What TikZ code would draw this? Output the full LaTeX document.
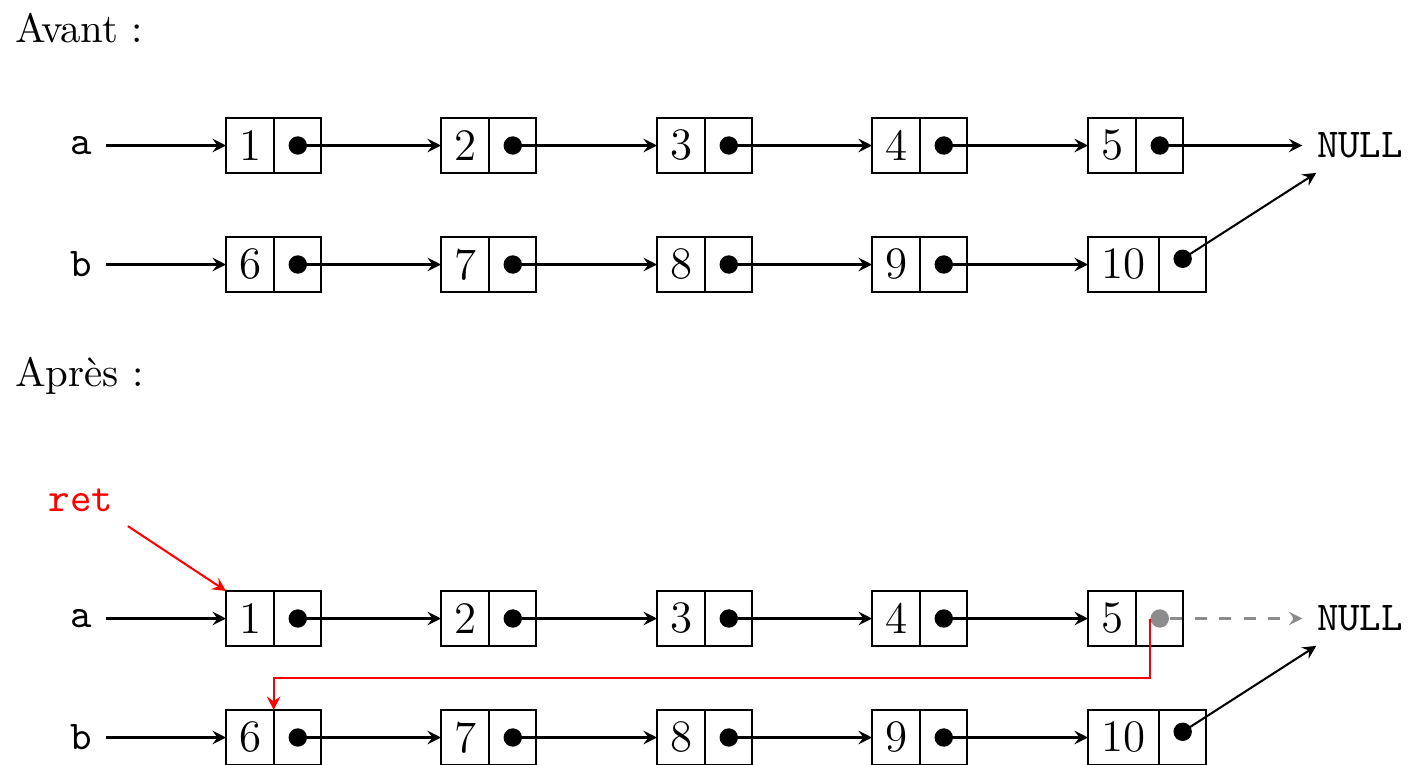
\documentclass[tikz,border=0pt]{standalone}
\usetikzlibrary{calc,arrows.meta}
\definecolor{nullgray}{gray}{0.55}
\begin{document}
\begin{tikzpicture}[x=0.2445pt,y=-0.2445pt,>={Stealth[length=3.3pt,width=3.3pt,inset=1.2pt]},line width=0.5pt,
  val/.style={draw,anchor=west,outer sep=0pt,minimum width=11.8pt,minimum height=13.45pt,inner sep=0pt,font=\fontsize{11}{13}\selectfont},
  wideval/.style={val,minimum width=17.4pt},
  ptr/.style={draw,anchor=west,outer sep=0pt,minimum width=11.5pt,minimum height=13.45pt,inner sep=0pt},
  dot/.style={circle,fill,inner sep=0pt,minimum size=4.5pt},
  gdot/.style={dot,fill=nullgray},
  var/.style={font=\ttfamily},
  link/.style={->},
  title/.style={anchor=base west,inner sep=0pt}]
\useasboundingbox (0,0) rectangle (1418,765);

\node[title] (avant) at (14,42) {Avant :};
\node[title] (apres) at (14,386) {Après :};

% ---------- Avant ----------
\foreach \r/\y/\s in {A/145.5/0,B/264.5/5}{
  \foreach \i/\x in {1/226,2/441,3/657,4/872}{
    \pgfmathtruncatemacro{\n}{\i+\s}
    \node[val] (v\r\i) at (\x,\y) {\n};
    \node[ptr] (p\r\i) at (v\r\i.east) {};
    \node[dot] (d\r\i) at (p\r\i.center) {};
  }
}
\node[val] (vA5) at (1088,145.5) {5};
\node[ptr] (pA5) at (vA5.east) {};
\node[dot] (dA5) at (pA5.center) {};
\node[wideval] (vB5) at (1088,264.5) {10};
\node[ptr] (pB5) at (vB5.east) {};
\node[dot] (dB5) at ([yshift=1.4pt]pB5.center) {};

\node[var] (a1) at (81,145.5) {a};
\node[var] (b1) at (81,264.5) {b};
\node[var] (nullA) at (1360,145.5) {NULL};

\draw[link] (a1) -- (vA1.west);
\draw[link] (b1) -- (vB1.west);
\foreach \i/\j in {1/2,2/3,3/4,4/5}{
  \draw[link] (dA\i.center) -- (vA\j.west);
  \draw[link] (dB\i.center) -- (vB\j.west);
}
\draw[link] (dA5.center) -- (nullA.west);
\draw[link] (dB5.center) -- ([xshift=3.4pt]nullA.south west);

% ---------- Après ----------
\foreach \r/\y/\s in {C/618.5/0,D/737.5/5}{
  \foreach \i/\x in {1/226,2/441,3/657,4/872}{
    \pgfmathtruncatemacro{\n}{\i+\s}
    \node[val] (v\r\i) at (\x,\y) {\n};
    \node[ptr] (p\r\i) at (v\r\i.east) {};
    \node[dot] (d\r\i) at (p\r\i.center) {};
  }
}
\node[val] (vC5) at (1088,618.5) {5};
\node[ptr] (pC5) at (vC5.east) {};
\node[gdot] (dC5) at (pC5.center) {};
\node[wideval] (vD5) at (1088,737.5) {10};
\node[ptr] (pD5) at (vD5.east) {};
\node[dot] (dD5) at ([yshift=1.4pt]pD5.center) {};

\node[var] (a2) at (81,618.5) {a};
\node[var] (b2) at (81,737.5) {b};
\node[var] (nullC) at (1360,618.5) {NULL};
\node[var,text=red] (ret) at (81,500) {ret};

\draw[link] (a2) -- (vC1.west);
\draw[link] (b2) -- (vD1.west);
\foreach \i/\j in {1/2,2/3,3/4,4/5}{
  \draw[link] (dC\i.center) -- (vC\j.west);
  \draw[link] (dD\i.center) -- (vD\j.west);
}
\draw[link,nullgray,dashed] (dC5.east) -- (nullC.west);
\draw[link] (dD5.center) -- ([xshift=3.4pt]nullC.south west);

\coordinate (top6) at ($(vD1.north west)!0.5!(pD1.north east)$);
\draw[link,red] (ret.south east) -- (vC1.north west);
\draw[link,red] (dC5.west) -- ++(0,59.5) -| (top6);
\end{tikzpicture}
\end{document}
